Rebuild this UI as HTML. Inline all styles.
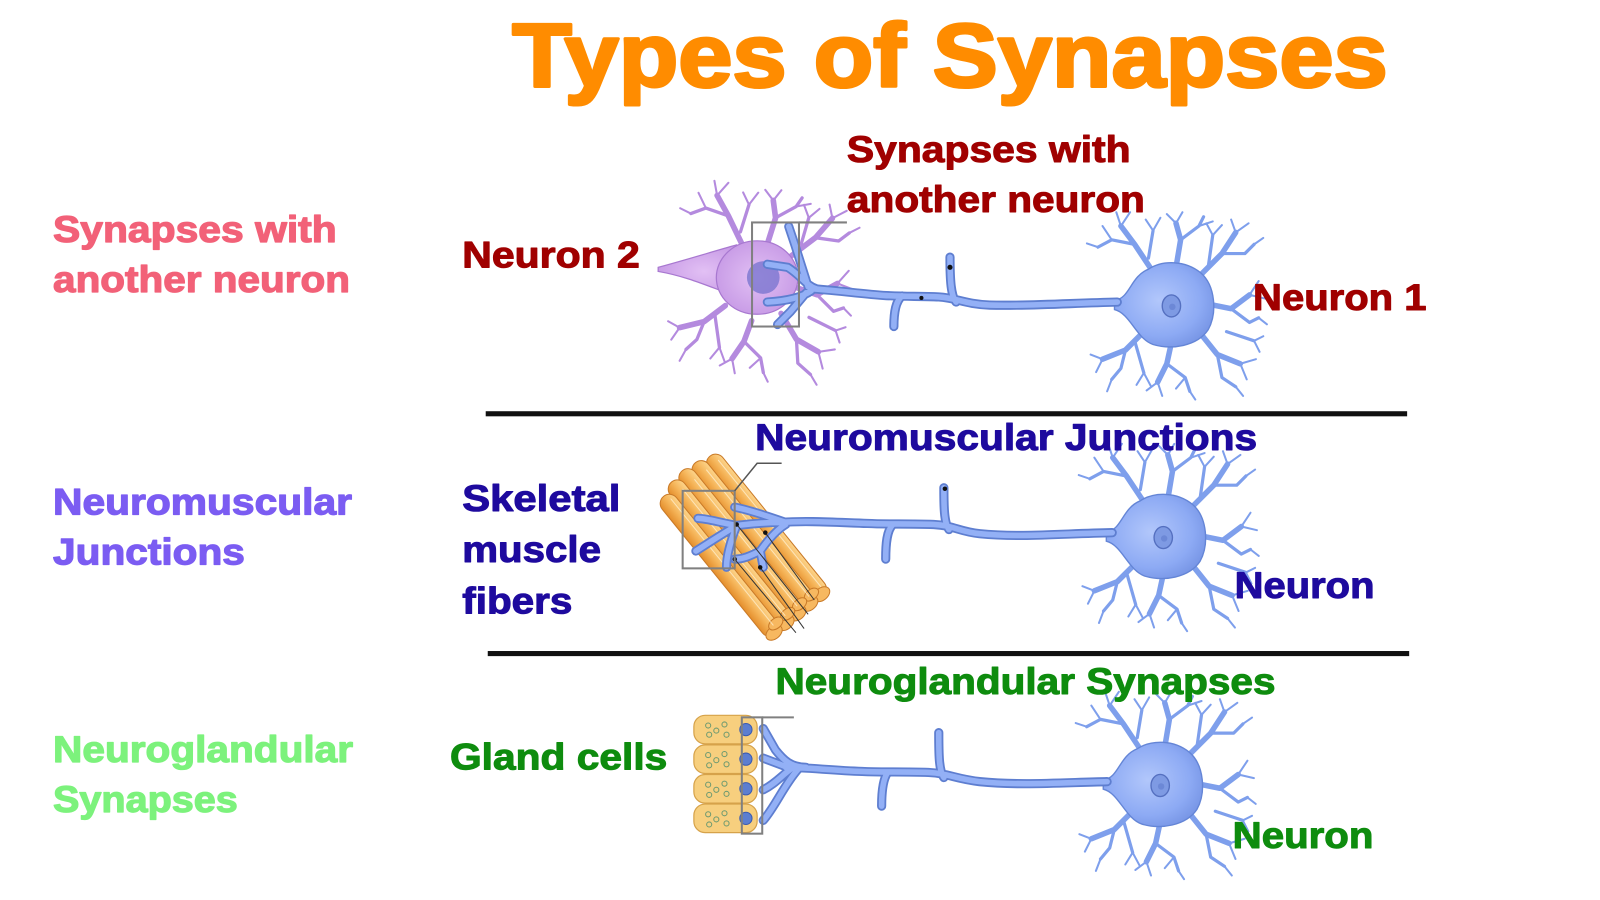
<!DOCTYPE html>
<html><head><meta charset="utf-8"><style>
html,body{margin:0;padding:0;background:#fff;}
svg{display:block;}
text{font-family:"Liberation Sans",Arial,sans-serif;font-weight:bold;}
</style></head><body>
<svg width="1600" height="900" viewBox="0 0 1600 900" xmlns="http://www.w3.org/2000/svg">
<defs>
<radialGradient id="bodyg" cx="0.45" cy="0.45" r="0.6">
<stop offset="0" stop-color="#B2C7FB"/><stop offset="0.7" stop-color="#8DAAF4"/><stop offset="1" stop-color="#7896E6"/>
</radialGradient>
<radialGradient id="purpg" cx="0.5" cy="0.5" r="0.6">
<stop offset="0" stop-color="#E2C0F4"/><stop offset="1" stop-color="#C496E4"/>
</radialGradient>
<linearGradient id="fib" x1="0" y1="0" x2="0" y2="1">
<stop offset="0" stop-color="#FDD58C"/><stop offset="0.5" stop-color="#F5B458"/><stop offset="1" stop-color="#E48E2C"/>
</linearGradient>
<g id="dend" fill="none" stroke-linecap="round" stroke-linejoin="round">
<path stroke-width="6" d="M-20,-35 L-40,-65 L-55,-85 M5,-40 L10,-70 L5,-88 M30,-30 L55,-55 L70,-78 M40,0 L65,5 L85,-10 M30,30 L50,55 L75,65 M0,42 L-5,65 L-15,85 M-30,30 L-50,50 L-75,60"/>
<path stroke-width="3.5" d="M-40,-65 L-65,-70 L-80,-62 M10,-70 L30,-85 L35,-95 M55,-55 L80,-55 L90,-65 M65,5 L85,20 L95,15 M50,55 L55,80 L70,90 M-5,65 L15,80 L20,95 M-50,50 L-55,70 L-65,82 M-25,-50 L-20,-80 M40,-40 L45,-75 M60,30 L90,40 M-40,40 L-30,75"/>
<path stroke-width="2.2" d="M-55,-85 L-60,-100 M-55,-85 L-45,-100 M-65,-70 L-75,-85 M5,-88 L-5,-98 M5,-88 L12,-100 M30,-85 L45,-90 M70,-78 L65,-92 M70,-78 L84,-88 M85,-10 L95,-25 M85,-10 L102,-6 M75,65 L92,60 M75,65 L82,82 M-15,85 L-27,94 M-15,85 L-10,100 M15,80 L5,92 M-75,60 L-88,55 M-75,60 L-82,74 M-80,-62 L-92,-66 M90,-65 L100,-72 M95,15 L104,22 M70,90 L78,100 M20,95 L26,104 M-65,82 L-70,95 M-20,-80 L-28,-92 M-20,-80 L-12,-94 M45,-75 L38,-88 M45,-75 L55,-86 M90,40 L100,35 M90,40 L96,52 M-30,75 L-38,88 M-30,75 L-22,90"/>
</g>
<g id="nbody">
<path d="M-62,-4 C-45,-6 -45,-30 -25,-38 C-10,-48 15,-48 32,-34 C48,-20 50,10 40,28 C28,46 0,50 -20,44 C-38,38 -45,10 -62,6 Z" fill="url(#bodyg)" stroke="#6485D6" stroke-width="1.5"/>
<ellipse cx="0" cy="2" rx="10" ry="12" fill="#7E9AE3" stroke="#5570C0" stroke-width="1.5"/>
<circle cx="1" cy="3" r="3.5" fill="#6C88D6"/>
</g>
</defs>

<g transform="scale(1.0204)">
<!-- Title -->
<text x="502" y="85" font-size="88" fill="#FF8C00" stroke="#FF8C00" stroke-width="3" stroke-linejoin="round" textLength="858" lengthAdjust="spacingAndGlyphs">Types of Synapses</text>

<!-- Left labels -->
<g stroke-width="1.2" stroke-linejoin="round">
<text x="52" y="237" font-size="36" fill="#F26178" stroke="#F26178" textLength="278" lengthAdjust="spacingAndGlyphs">Synapses with</text>
<text x="52" y="286" font-size="36" fill="#F26178" stroke="#F26178" textLength="291" lengthAdjust="spacingAndGlyphs">another neuron</text>
<text x="52" y="504" font-size="36" fill="#7B5CF2" stroke="#7B5CF2" textLength="293" lengthAdjust="spacingAndGlyphs">Neuromuscular</text>
<text x="52" y="553" font-size="36" fill="#7B5CF2" stroke="#7B5CF2" textLength="188" lengthAdjust="spacingAndGlyphs">Junctions</text>
<text x="52" y="747" font-size="36" fill="#7CF27C" stroke="#7CF27C" textLength="294" lengthAdjust="spacingAndGlyphs">Neuroglandular</text>
<text x="52" y="796" font-size="36" fill="#7CF27C" stroke="#7CF27C" textLength="181" lengthAdjust="spacingAndGlyphs">Synapses</text>
</g>

<!-- Separators -->
<rect x="476" y="403" width="903" height="5" fill="#111"/>
<rect x="478" y="638" width="903" height="5" fill="#111"/>

<!-- ===== Row 1 ===== -->
<g transform="translate(742,276) scale(0.92) rotate(8)">
<use href="#dend" stroke="#B48ADE"/>
</g>
<path d="M645,262 C675,254 700,246 722,240 L735,250 L728,292 C705,286 680,272 645,266 Z" fill="url(#purpg)" stroke="#A878D0" stroke-width="1.2"/>
<ellipse cx="742" cy="272" rx="40" ry="36" fill="url(#purpg)" stroke="#A878D0" stroke-width="1.2"/>
<circle cx="748" cy="272" r="16" fill="#7A76D0" opacity="0.8"/>

<g transform="translate(1148,298) scale(0.9)">
<use href="#dend" stroke="#7E9FEC"/>
<use href="#nbody"/>
</g>
<g fill="none" stroke-linecap="round" stroke-linejoin="round">
<path stroke="#5E7ED0" stroke-width="9" d="M1095,296 C1050,297 1010,300 970,299 C945,298 938,292 920,291 C900,290 880,291 860,289 C835,287 815,284 795,283 M937,296 C932,290 931,275 931,252 M884,290 C878,295 876,305 876,320 M800,283 C790,280 785,270 772,262 L752,259 M792,281 L779,240 L773,222 M795,285 C785,292 770,295 752,296 M790,287 L775,305 L762,318"/>
<path stroke="#93B0F6" stroke-width="5.5" d="M1095,296 C1050,297 1010,300 970,299 C945,298 938,292 920,291 C900,290 880,291 860,289 C835,287 815,284 795,283 M937,296 C932,290 931,275 931,252 M884,290 C878,295 876,305 876,320 M800,283 C790,280 785,270 772,262 L752,259 M792,281 L779,240 L773,222 M795,285 C785,292 770,295 752,296 M790,287 L775,305 L762,318"/>
</g>
<circle cx="931" cy="262" r="2.5" fill="#111"/>
<circle cx="903" cy="292" r="2" fill="#111"/>
<rect x="737" y="218" width="46" height="102" fill="none" stroke="#808080" stroke-width="2"/>
<line x1="783" y1="218" x2="830" y2="218" stroke="#808080" stroke-width="2"/>

<g stroke-width="1" stroke-linejoin="round">
<text x="830" y="159" font-size="36" fill="#A00000" stroke="#A00000" textLength="278" lengthAdjust="spacingAndGlyphs">Synapses with</text>
<text x="830" y="208" font-size="36" fill="#A00000" stroke="#A00000" textLength="292" lengthAdjust="spacingAndGlyphs">another neuron</text>
<text x="453" y="262" font-size="36" fill="#A00000" stroke="#A00000" textLength="174" lengthAdjust="spacingAndGlyphs">Neuron 2</text>
<text x="1228" y="304" font-size="36" fill="#A00000" stroke="#A00000" textLength="170" lengthAdjust="spacingAndGlyphs">Neuron 1</text>
</g>

<!-- ===== Row 2 ===== -->
<g transform="translate(727,535) rotate(51)">
<rect x="-88" y="-40" width="176" height="18" rx="9" fill="url(#fib)" stroke="#C97A28" stroke-width="1"/>
<rect x="-92" y="-25" width="180" height="18" rx="9" fill="url(#fib)" stroke="#C97A28" stroke-width="1"/>
<rect x="-94" y="-10" width="182" height="18" rx="9" fill="url(#fib)" stroke="#C97A28" stroke-width="1"/>
<rect x="-92" y="5" width="180" height="18" rx="9" fill="url(#fib)" stroke="#C97A28" stroke-width="1"/>
<rect x="-86" y="20" width="174" height="18" rx="9" fill="url(#fib)" stroke="#C97A28" stroke-width="1"/>
<g fill="#F7B860" stroke="#C97A28" stroke-width="1">
<ellipse cx="86" cy="-31" rx="6" ry="9"/><ellipse cx="86" cy="-16" rx="6" ry="9"/><ellipse cx="86" cy="-1" rx="6" ry="9"/><ellipse cx="86" cy="14" rx="6" ry="9"/><ellipse cx="86" cy="29" rx="6" ry="9"/>
<ellipse cx="80" cy="-23" rx="5" ry="8"/><ellipse cx="80" cy="-8" rx="5" ry="8"/><ellipse cx="80" cy="7" rx="5" ry="8"/><ellipse cx="80" cy="22" rx="5" ry="8"/>
</g>
<g stroke="#FFF3D8" stroke-width="1" opacity="0.7">
<line x1="-80" y1="-35" x2="80" y2="-35"/><line x1="-80" y1="-20" x2="80" y2="-20"/><line x1="-80" y1="-5" x2="80" y2="-5"/><line x1="-80" y1="10" x2="80" y2="10"/><line x1="-80" y1="25" x2="80" y2="25"/>
</g>
</g>
<g transform="translate(1140,525) scale(0.9)">
<use href="#dend" stroke="#7E9FEC"/>
<use href="#nbody"/>
</g>
<g fill="none" stroke-linecap="round" stroke-linejoin="round">
<path stroke="#5E7ED0" stroke-width="9" d="M1090,522 C1040,523 1000,527 960,523 C940,521 935,515 915,514 C890,513 870,514 850,513 C820,512 790,510 765,512 M930,519 C925,512 925,495 925,478 M875,514 C869,520 868,533 868,548 M770,512 C750,505 735,500 720,497 M765,512 C745,512 730,514 722,515 C705,512 692,508 684,508 M722,515 C716,530 712,545 712,556 M722,515 C705,525 690,535 682,540 M770,514 C760,520 752,530 745,540 C735,545 728,548 720,548 M745,540 L748,556"/>
<path stroke="#93B0F6" stroke-width="5.5" d="M1090,522 C1040,523 1000,527 960,523 C940,521 935,515 915,514 C890,513 870,514 850,513 C820,512 790,510 765,512 M930,519 C925,512 925,495 925,478 M875,514 C869,520 868,533 868,548 M770,512 C750,505 735,500 720,497 M765,512 C745,512 730,514 722,515 C705,512 692,508 684,508 M722,515 C716,530 712,545 712,556 M722,515 C705,525 690,535 682,540 M770,514 C760,520 752,530 745,540 C735,545 728,548 720,548 M745,540 L748,556"/>
</g>
<g stroke="#333" stroke-width="1">
<line x1="722" y1="514" x2="792" y2="602"/><line x1="750" y1="522" x2="798" y2="588"/><line x1="720" y1="548" x2="780" y2="620"/><line x1="745" y1="556" x2="788" y2="616"/>
</g>
<g fill="#111"><circle cx="722" cy="514" r="2.2"/><circle cx="750" cy="522" r="2.2"/><circle cx="720" cy="548" r="2.2"/><circle cx="745" cy="556" r="2.2"/><circle cx="926" cy="479" r="2.2"/></g>
<rect x="669" y="481" width="51" height="76" fill="none" stroke="#808080" stroke-width="2"/>
<polyline points="720,481 742,454 766,454" fill="none" stroke="#555" stroke-width="1.5"/>

<g stroke-width="1" stroke-linejoin="round">
<text x="740" y="441" font-size="36" fill="#1E0A9E" stroke="#1E0A9E" textLength="492" lengthAdjust="spacingAndGlyphs">Neuromuscular Junctions</text>
<text x="453" y="501" font-size="36" fill="#1E0A9E" stroke="#1E0A9E" textLength="155" lengthAdjust="spacingAndGlyphs">Skeletal</text>
<text x="453" y="551" font-size="36" fill="#1E0A9E" stroke="#1E0A9E" textLength="136" lengthAdjust="spacingAndGlyphs">muscle</text>
<text x="453" y="601" font-size="36" fill="#1E0A9E" stroke="#1E0A9E" textLength="108" lengthAdjust="spacingAndGlyphs">fibers</text>
<text x="1210" y="586" font-size="36" fill="#1E0A9E" stroke="#1E0A9E" textLength="137" lengthAdjust="spacingAndGlyphs">Neuron</text>
</g>

<!-- ===== Row 3 ===== -->
<g stroke="#D6A24A" stroke-width="1.2">
<rect x="680" y="701" width="62" height="28" rx="11" fill="#F7CF7E"/>
<rect x="680" y="730" width="62" height="28" rx="11" fill="#F7CF7E"/>
<rect x="680" y="759" width="62" height="28" rx="11" fill="#F7CF7E"/>
<rect x="680" y="788" width="62" height="28" rx="11" fill="#F7CF7E"/>
</g>
<g fill="#5C7ED0" stroke="#3A5AB0" stroke-width="1">
<circle cx="731" cy="715" r="6"/><circle cx="731" cy="744" r="6"/><circle cx="731" cy="773" r="6"/><circle cx="731" cy="802" r="6"/>
</g>
<g fill="none" stroke="#6E9A70" stroke-width="1">
<circle cx="694" cy="711" r="2.5"/><circle cx="702" cy="716" r="2.5"/><circle cx="695" cy="720" r="2.5"/><circle cx="710" cy="710" r="2.5"/><circle cx="712" cy="720" r="2.5"/>
<circle cx="694" cy="740" r="2.5"/><circle cx="702" cy="745" r="2.5"/><circle cx="695" cy="750" r="2.5"/><circle cx="710" cy="739" r="2.5"/><circle cx="712" cy="749" r="2.5"/>
<circle cx="694" cy="769" r="2.5"/><circle cx="702" cy="774" r="2.5"/><circle cx="695" cy="779" r="2.5"/><circle cx="710" cy="768" r="2.5"/><circle cx="712" cy="778" r="2.5"/>
<circle cx="694" cy="798" r="2.5"/><circle cx="702" cy="803" r="2.5"/><circle cx="695" cy="808" r="2.5"/><circle cx="710" cy="797" r="2.5"/><circle cx="712" cy="807" r="2.5"/>
</g>
<g transform="translate(1137,768) scale(0.9)">
<use href="#dend" stroke="#7E9FEC"/>
<use href="#nbody"/>
</g>
<g fill="none" stroke-linecap="round" stroke-linejoin="round">
<path stroke="#5E7ED0" stroke-width="9" d="M1085,766 C1040,767 1000,770 960,766 C935,763 930,758 910,757 C885,756 865,757 845,756 C815,755 790,752 770,752 M925,762 C920,755 920,738 920,718 M870,757 C865,764 864,777 864,790 M790,752 C775,752 768,745 760,735 L748,714 M772,752 L748,743 M776,753 C766,760 760,768 748,774 M782,754 C768,770 760,790 748,804"/>
<path stroke="#93B0F6" stroke-width="5.5" d="M1085,766 C1040,767 1000,770 960,766 C935,763 930,758 910,757 C885,756 865,757 845,756 C815,755 790,752 770,752 M925,762 C920,755 920,738 920,718 M870,757 C865,764 864,777 864,790 M790,752 C775,752 768,745 760,735 L748,714 M772,752 L748,743 M776,753 C766,760 760,768 748,774 M782,754 C768,770 760,790 748,804"/>
</g>
<rect x="727" y="703" width="20" height="114" fill="none" stroke="#808080" stroke-width="2"/>
<line x1="747" y1="703" x2="778" y2="703" stroke="#808080" stroke-width="2"/>

<g stroke-width="1" stroke-linejoin="round">
<text x="760" y="680" font-size="36" fill="#0E8C0E" stroke="#0E8C0E" textLength="490" lengthAdjust="spacingAndGlyphs">Neuroglandular Synapses</text>
<text x="441" y="754" font-size="36" fill="#0E8C0E" stroke="#0E8C0E" textLength="213" lengthAdjust="spacingAndGlyphs">Gland cells</text>
<text x="1208" y="831" font-size="36" fill="#0E8C0E" stroke="#0E8C0E" textLength="138" lengthAdjust="spacingAndGlyphs">Neuron</text>
</g>
</g>
</svg>
</body></html>
